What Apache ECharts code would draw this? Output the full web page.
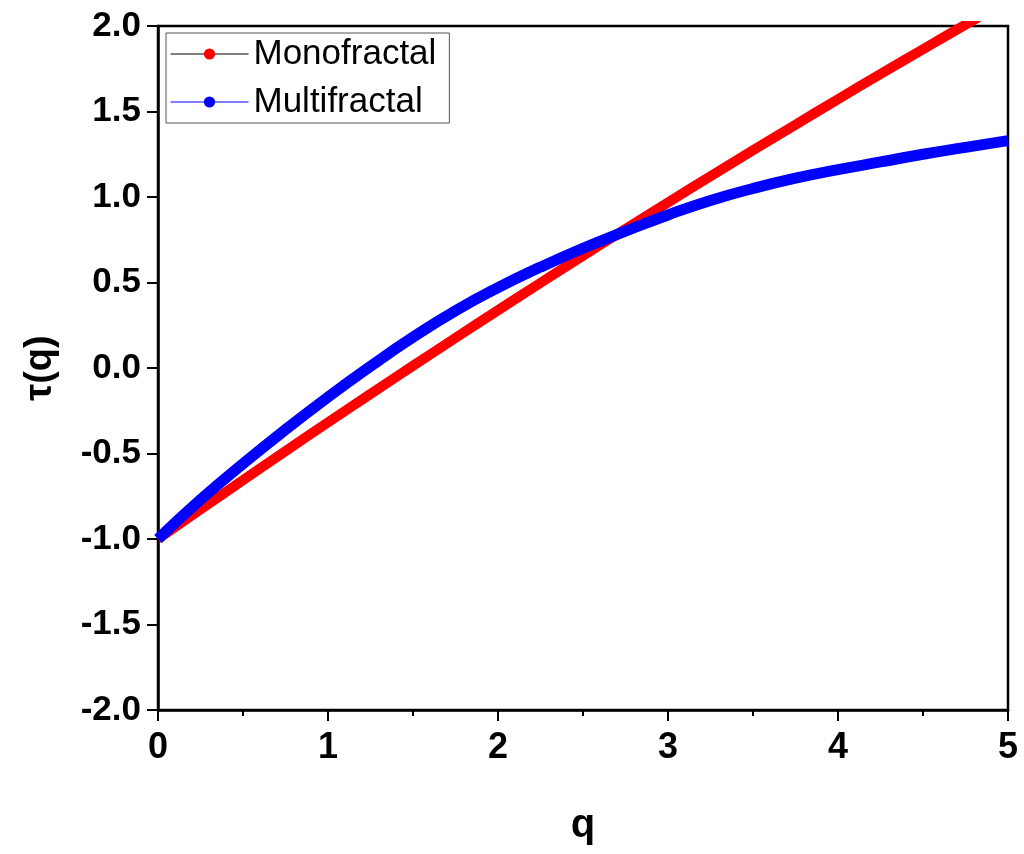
<!DOCTYPE html>
<html>
<head>
<meta charset="utf-8">
<script src="https://cdn.jsdelivr.net/npm/echarts@6/dist/echarts.min.js"></script>
<style>
html,body{margin:0;padding:0;background:#fff;}
#chart{width:1024px;height:854px;}
</style>
</head>
<body>
<div id="chart"></div>
<script>
// q values (x axis)
const qValues = [0, 0.25, 0.5, 0.75, 1, 1.25, 1.5, 1.75, 2, 2.25, 2.5, 2.75, 3, 3.25, 3.5, 3.75, 4, 4.25, 4.5, 4.75, 5];
// Monofractal tau(q)
const monoValues = [-1, -0.827, -0.656, -0.486, -0.318, -0.152, 0.013, 0.176, 0.338, 0.498, 0.656, 0.813, 0.968, 1.121, 1.273, 1.423, 1.572, 1.719, 1.864, 2.008, 2.15];
// Multifractal tau(q)
const multiValues = [-1, -0.77, -0.56, -0.36, -0.17, 0.01, 0.18, 0.335, 0.47, 0.59, 0.70, 0.80, 0.895, 0.98, 1.05, 1.11, 1.16, 1.205, 1.25, 1.29, 1.33];
const seriesNames = ['Monofractal', 'Multifractal'];
const xTicks = [0, 1, 2, 3, 4, 5];
const yTicks = [-2.0, -1.5, -1.0, -0.5, 0.0, 0.5, 1.0, 1.5, 2.0];

const chart = echarts.init(document.getElementById('chart'));
const pair = (ys) => qValues.map((q, i) => [q, ys[i]]);

chart.setOption({
  animation: false,
  backgroundColor: '#fff',
  grid: {
    left: 158, right: 16, top: 26, bottom: 144,
    show: true, borderColor: '#000', borderWidth: 2.5, backgroundColor: 'transparent'
  },
  legend: {
    left: 166, top: 33, orient: 'vertical',
    padding: [1, 13, 1, 4],
    itemGap: 8, itemWidth: 78, itemHeight: 14,
    borderColor: '#555', borderWidth: 1,
    textStyle: { fontFamily: 'Liberation Sans, Arial', fontSize: 35, color: '#000', lineHeight: 40 },
    data: [
      { name: seriesNames[0], itemStyle: { color: '#ff0000' }, lineStyle: { color: '#000', width: 1 } },
      { name: seriesNames[1], itemStyle: { color: '#0000ff' }, lineStyle: { color: '#0000ff', width: 1 } }
    ]
  },
  xAxis: {
    type: 'value', min: xTicks[0], max: xTicks[xTicks.length - 1], interval: 1,
    name: 'q', nameLocation: 'middle', nameGap: 96,
    nameTextStyle: { fontFamily: 'Liberation Sans, Arial', fontWeight: 'bold', fontSize: 40, color: '#000' },
    axisLine: { onZero: false, lineStyle: { color: '#000', width: 2.5 } },
    axisTick: { show: true, inside: false, length: 11, lineStyle: { color: '#000', width: 2 } },
    minorTick: { show: true, splitNumber: 2, length: 6, lineStyle: { color: '#000', width: 2 } },
    splitLine: { show: false },
    axisLabel: { fontFamily: 'Liberation Sans, Arial', fontWeight: 'bold', fontSize: 36, color: '#000', margin: 20 }
  },
  yAxis: {
    type: 'value', min: yTicks[0], max: yTicks[yTicks.length - 1], interval: 0.5,
    name: 'τ(q)', nameLocation: 'middle', nameRotate: 90, nameGap: 98,
    nameTextStyle: { fontFamily: 'Liberation Sans, Arial', fontWeight: 'bold', fontSize: 38, color: '#000' },
    axisLine: { show: true, onZero: false, lineStyle: { color: '#000', width: 2.5 } },
    axisTick: { show: true, inside: false, length: 11, lineStyle: { color: '#000', width: 2 } },
    splitLine: { show: false },
    axisLabel: {
      fontFamily: 'Liberation Sans, Arial', fontWeight: 'bold', fontSize: 35, color: '#000', margin: 17,
      formatter: (v) => v.toFixed(1)
    }
  },
  series: [
    {
      name: seriesNames[0], type: 'line', data: pair(monoValues), smooth: true,
      symbol: 'circle', symbolSize: 12, showSymbol: false, clip: true,
      itemStyle: { color: '#ff0000' },
      lineStyle: { color: '#ff0000', width: 10 }
    },
    {
      name: seriesNames[1], type: 'line', data: pair(multiValues), smooth: true,
      symbol: 'circle', symbolSize: 12, showSymbol: false, clip: true,
      itemStyle: { color: '#0000ff' },
      lineStyle: { color: '#0000ff', width: 11 }
    }
  ]
});
</script>
</body>
</html>
